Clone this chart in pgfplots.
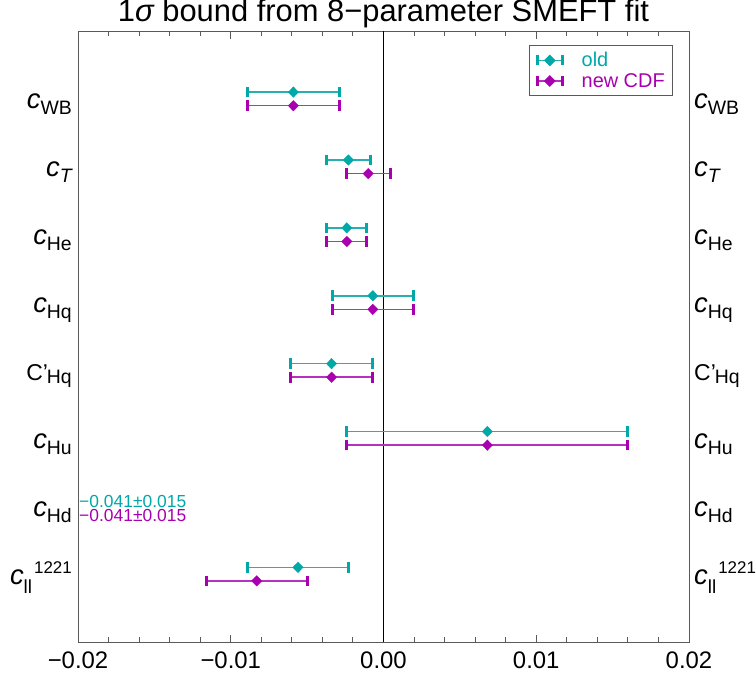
\documentclass[border=0pt]{standalone}
\usepackage{fontspec}
\setmainfont{Liberation Sans}
\usepackage{pgfplots}
\pgfplotsset{compat=1.18}
\definecolor{tealc}{RGB}{0,168,168}
\definecolor{teall}{RGB}{40,176,176}
\definecolor{magc}{RGB}{168,0,176}
\definecolor{magl}{RGB}{182,50,190}
\definecolor{framec}{RGB}{90,90,90}
\newcommand{\cc}{{\fontsize{27.5}{28}\selectfont\itshape c}}
\newcommand{\sub}[1]{\raisebox{-6bp}{\fontsize{19.5}{20}\selectfont #1}}
\newcommand{\labs}{{\cc\sub{WB}},{\cc\sub{\itshape T}},{\cc\sub{He}},{\cc\sub{Hq}},{{\fontsize{23}{23}\selectfont C'}\hspace{-1bp}\raisebox{-3bp}{\fontsize{19.5}{20}\selectfont Hq}},{\cc\sub{Hu}},{\cc\sub{Hd}},{\cc\raisebox{-9bp}{\fontsize{19}{20}\selectfont ll}\hspace{2bp}\raisebox{11bp}{\fontsize{17}{17}\selectfont 1221}}}

\pgfplotstableread{
y x e
0.9 -0.0059 0.0030
1.9 -0.0023 0.00143
2.9 -0.0024 0.0013
3.9 -0.0007 0.00267
4.9 -0.0034 0.0027
5.9 0.0068 0.0092
7.9 -0.0056 0.0033
}\oldtab
\pgfplotstableread{
y x e
1.1 -0.0059 0.0030
2.1 -0.0010 0.00143
3.1 -0.0024 0.0013
4.1 -0.0007 0.00267
5.1 -0.0034 0.0027
6.1 0.0068 0.0092
8.1 -0.0083 0.0033
}\newtab

\begin{document}
\begin{tikzpicture}
\useasboundingbox (0,0) rectangle (756bp,678bp);
\begin{axis}[
  at={(78bp,36bp)}, anchor=south west,
  scale only axis, width=611bp, height=611bp,
  xmin=-0.02, xmax=0.02, ymin=0, ymax=9, y dir=reverse,
  scaled x ticks=false,
  xtick={-0.02,-0.01,0,0.01,0.02},
  xticklabels={−0.02,−0.01,0.00,0.01,0.02},
  minor x tick num=4,
  tick align=inside,
  major tick length=7.5bp, minor tick length=5bp,
  x tick style={framec, line width=1bp},
  ytick={1,...,8},
  yticklabels/.expand once={\labs},
  y tick style={draw=none},
  yticklabel style={anchor=base east, inner sep=0pt, xshift=-6bp, yshift=-10bp},
  xticklabel style={font=\fontsize{24}{24}\selectfont, inner sep=0pt, anchor=north, yshift=-10bp},
  axis line style={framec, line width=1bp},
  extra x ticks={0}, extra x tick labels={},
  extra x tick style={grid=major, major grid style={black, line width=0.9bp}, major tick length=0pt},
  title={1{\itshape σ} bound from 8−parameter SMEFT fit},
  title style={font=\fontsize{31}{31}\selectfont, anchor=base, at={(0.5,1)}, yshift=4bp, inner sep=0pt},
  legend style={at={(0.974,0.977)}, anchor=north east, draw=framec, line width=0.8bp,
    font=\fontsize{20}{20}\selectfont, cells={anchor=west}, row sep=1bp, inner xsep=6bp, inner ysep=5bp},
  clip=true,
]
\addplot[only marks, mark=diamond*, mark size=5.3bp, mark options={xscale=1.3, tealc, fill=tealc, line width=0.3bp},
  legend image code/.code={
    \draw[teall, line width=1.5bp] (0bp,0bp) -- (25bp,0bp);
    \draw[tealc, line width=3bp] (0bp,-5bp) -- (0bp,5bp) (25bp,-5bp) -- (25bp,5bp);
    \fill[tealc] (12.5bp,5.3bp) -- (17.8bp,0bp) -- (12.5bp,-5.3bp) -- (7.2bp,0bp) -- cycle;
    \path (42bp,0bp);},
  error bars/.cd, x dir=both, x explicit,
  error bar style={draw=teall, line width=1.6bp},
  error mark options={draw=tealc, line width=3bp, mark size=5.3bp, rotate=90}]
  table[x=x, y=y, x error=e] {\oldtab};
\addlegendentry{\textcolor{tealc}{old}}
\addplot[only marks, mark=diamond*, mark size=5.3bp, mark options={xscale=1.3, magc, fill=magc, line width=0.3bp},
  legend image code/.code={
    \draw[magl, line width=1.5bp] (0bp,0bp) -- (25bp,0bp);
    \draw[magc, line width=3bp] (0bp,-5bp) -- (0bp,5bp) (25bp,-5bp) -- (25bp,5bp);
    \fill[magc] (12.5bp,5.3bp) -- (17.8bp,0bp) -- (12.5bp,-5.3bp) -- (7.2bp,0bp) -- cycle;
    \path (42bp,0bp);},
  error bars/.cd, x dir=both, x explicit,
  error bar style={draw=magl, line width=1.6bp},
  error mark options={draw=magc, line width=3bp, mark size=5.3bp, rotate=90}]
  table[x=x, y=y, x error=e] {\newtab};
\addlegendentry{\textcolor{magc}{new CDF}}
\node[anchor=west, inner sep=0pt, xshift=1bp, yshift=-2.5bp, text=tealc, font=\fontsize{17.5}{18}\selectfont] at (axis cs:-0.02,6.9) {−0.041±0.015};
\node[anchor=west, inner sep=0pt, xshift=1bp, yshift=-2bp, text=magc, font=\fontsize{17.5}{18}\selectfont] at (axis cs:-0.02,7.1) {−0.041±0.015};
\end{axis}
\begin{axis}[
  at={(78bp,36bp)}, anchor=south west,
  scale only axis, width=611bp, height=611bp,
  xmin=-0.02, xmax=0.02, ymin=0, ymax=9, y dir=reverse,
  hide x axis, scaled x ticks=false, xtick=\empty,
  axis y line*=right, y axis line style={draw=none},
  ytick={1,...,8},
  yticklabels/.expand once={\labs},
  y tick style={draw=none},
  yticklabel style={anchor=base west, inner sep=0pt, xshift=5bp, yshift=-10bp},
]
\end{axis}
\end{tikzpicture}
\end{document}
